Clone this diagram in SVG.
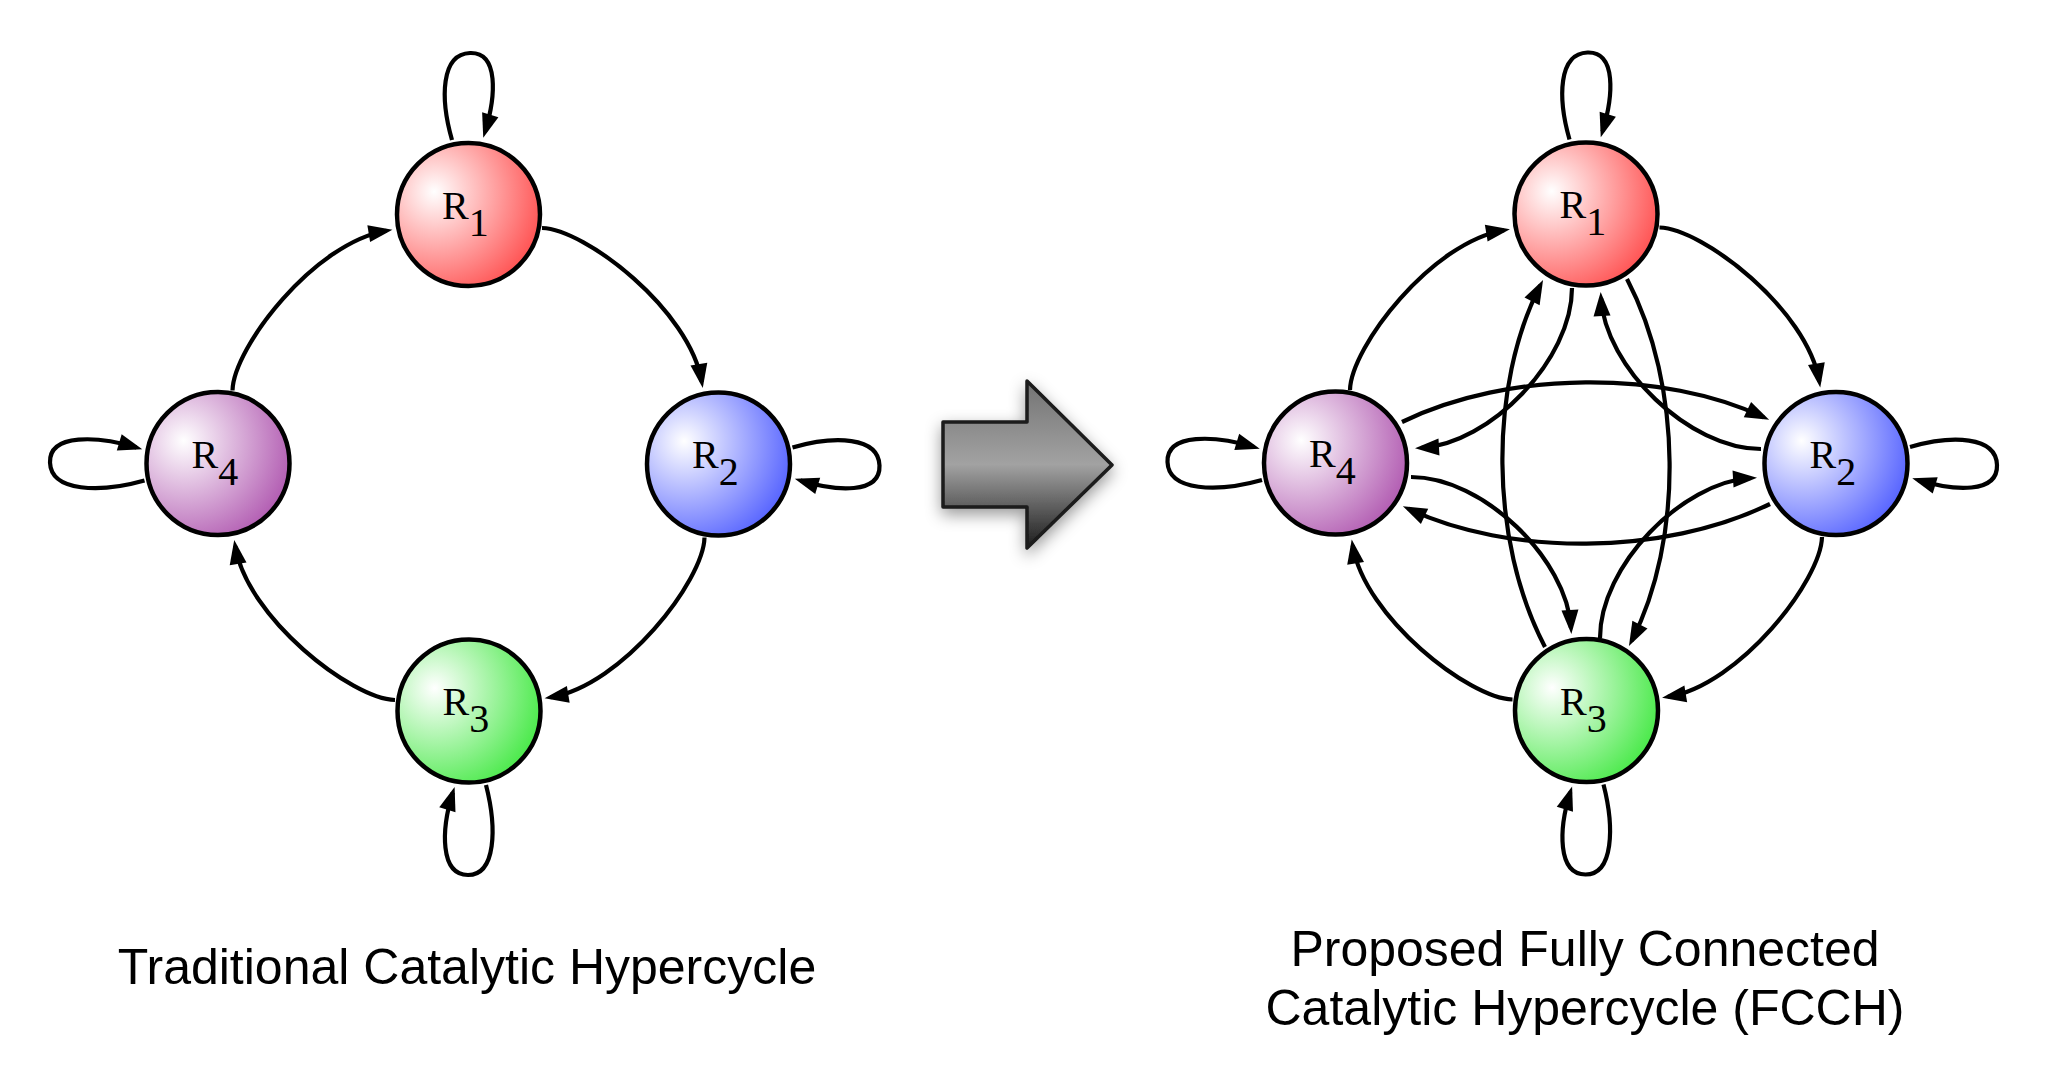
<svg xmlns="http://www.w3.org/2000/svg" width="2046" height="1075" viewBox="0 0 2046 1075">
<style>
.edge{fill:none;stroke:#000;stroke-width:4.2;marker-end:url(#ah)}
.node{stroke:#000;stroke-width:4.5}
.lbl{font-family:"Liberation Serif","Times New Roman",serif;font-size:40px;fill:#000}
.cap{font-family:"Liberation Sans",Arial,sans-serif;font-size:50px;fill:#000;text-anchor:middle}
</style>
<defs>
<marker id="ah" markerUnits="userSpaceOnUse" markerWidth="24" markerHeight="17" refX="18" refY="8.5" orient="auto" viewBox="0 0 24 17" overflow="visible">
<path d="M0,0 L24,8.5 L0,17 z" fill="#000"/>
</marker>
<radialGradient id="g1" cx="0.28" cy="0.36" r="0.8" fx="0.26" fy="0.34"><stop offset="0" stop-color="#ffffff"/><stop offset="1" stop-color="#ff4a4a"/></radialGradient>
<radialGradient id="g2" cx="0.28" cy="0.36" r="0.8" fx="0.26" fy="0.34"><stop offset="0" stop-color="#ffffff"/><stop offset="1" stop-color="#4e5cff"/></radialGradient>
<radialGradient id="g3" cx="0.28" cy="0.36" r="0.8" fx="0.26" fy="0.34"><stop offset="0" stop-color="#ffffff"/><stop offset="1" stop-color="#40e840"/></radialGradient>
<radialGradient id="g4" cx="0.28" cy="0.36" r="0.8" fx="0.26" fy="0.34"><stop offset="0" stop-color="#ffffff"/><stop offset="1" stop-color="#ae54ae"/></radialGradient>
<linearGradient id="ga" gradientUnits="userSpaceOnUse" x1="0" y1="381" x2="0" y2="548">
<stop offset="0" stop-color="#737373"/><stop offset="0.5" stop-color="#a2a2a2"/><stop offset="1" stop-color="#1c1c1c"/>
</linearGradient>
<filter id="sh" x="-30%" y="-30%" width="160%" height="170%">
<feDropShadow dx="0" dy="6" stdDeviation="8" flood-color="#000" flood-opacity="0.4"/>
</filter>
</defs>
<rect width="2046" height="1075" fill="#fff"/>

<g id="connectors">
<!-- left: traditional -->
<path class="edge" d="M452,140 C440,98 441,54 470,53 C499,52 496,96 485,132"/>
<path class="edge" d="M792.5,447.5 C834.5,435.5 878.5,436.5 879.5,465.5 C880.5,494.5 836.5,491.5 800.5,480.5"/>
<path class="edge" d="M486,785 C497,828 496,875 468,875 C440,875 441,830 452.8,792.6"/>
<path class="edge" d="M144.5,480.5 C100,493 51,492 50,462.5 C49,433 98,436 136.5,447.5"/>
<path class="edge" d="M542,228 C585,229 690,310 701.8,382"/>
<path class="edge" d="M704.5,537.5 C703.5,580.5 622.5,685.5 550.5,697.3"/>
<path class="edge" d="M395,700 C352,699 247,618 235.2,546"/>
<path class="edge" d="M232.5,390.5 C233.5,347.5 314.5,242.5 386.5,230.7"/>
<!-- right: fully connected -->
<path class="edge" d="M1569.5,139.5 C1557.5,97.5 1558.5,53.5 1587.5,52.5 C1616.5,51.5 1613.5,95.5 1602.5,131.5"/>
<path class="edge" d="M1910,447 C1952,435 1996,436 1997,465 C1998,494 1954,491 1918,480"/>
<path class="edge" d="M1603.5,784.5 C1614.5,827.5 1613.5,874.5 1585.5,874.5 C1557.5,874.5 1558.5,829.5 1570.3,792.1"/>
<path class="edge" d="M1262,480 C1217.5,492.5 1168.5,491.5 1167.5,462 C1166.5,432.5 1215.5,435.5 1254,447"/>
<path class="edge" d="M1659.5,227.5 C1702.5,228.5 1807.5,309.5 1819.3,381.5"/>
<path class="edge" d="M1822,537 C1821,580 1740,685 1668,696.8"/>
<path class="edge" d="M1512.5,699.5 C1469.5,698.5 1364.5,617.5 1352.7,545.5"/>
<path class="edge" d="M1350,390 C1351,347 1432,242 1504,230.2"/>
<path class="edge" d="M1572,288 C1572,360 1490,444 1421,448"/>
<path class="edge" d="M1761,449 C1689,449 1605,367 1601,298"/>
<path class="edge" d="M1600,638 C1600,566 1682,482 1751,478"/>
<path class="edge" d="M1411,477 C1483,477 1567,559 1571,628"/>
<path class="edge" d="M1545,647 C1489,540 1489,385 1540.3,285.3"/>
<path class="edge" d="M1402,422 C1509,370 1664,370 1763.7,417.3"/>
<path class="edge" d="M1627,279 C1683,386 1683,541 1631.7,640.7"/>
<path class="edge" d="M1770,504 C1663,556 1508,556 1408.3,508.7"/>
</g>

<g id="L-R1"><circle class="node" cx="468.5" cy="214.5" r="71.5" fill="url(#g1)"/><text class="lbl" x="442" y="218.5">R<tspan dy="17">1</tspan></text></g>
<g id="L-R2"><circle class="node" cx="718.5" cy="464" r="71.5" fill="url(#g2)"/><text class="lbl" x="692" y="468">R<tspan dy="17">2</tspan></text></g>
<g id="L-R3"><circle class="node" cx="469" cy="711" r="71.5" fill="url(#g3)"/><text class="lbl" x="442.5" y="715">R<tspan dy="17">3</tspan></text></g>
<g id="L-R4"><circle class="node" cx="218" cy="463.5" r="71.5" fill="url(#g4)"/><text class="lbl" x="191.5" y="467.5">R<tspan dy="17">4</tspan></text></g>

<g id="R-R1"><circle class="node" cx="1586" cy="214" r="71.5" fill="url(#g1)"/><text class="lbl" x="1559.5" y="218">R<tspan dy="17">1</tspan></text></g>
<g id="R-R2"><circle class="node" cx="1836" cy="463.5" r="71.5" fill="url(#g2)"/><text class="lbl" x="1809.5" y="467.5">R<tspan dy="17">2</tspan></text></g>
<g id="R-R3"><circle class="node" cx="1586.5" cy="710.5" r="71.5" fill="url(#g3)"/><text class="lbl" x="1560" y="714.5">R<tspan dy="17">3</tspan></text></g>
<g id="R-R4"><circle class="node" cx="1335.5" cy="463" r="71.5" fill="url(#g4)"/><text class="lbl" x="1309" y="467">R<tspan dy="17">4</tspan></text></g>

<g id="transform-arrow">
<polygon points="943,422 1027,422 1027,381 1112,465 1027,548 1027,507 943,507" fill="url(#ga)" stroke="#1a1a1a" stroke-width="3.5" stroke-linejoin="round" filter="url(#sh)"/>
</g>

<g id="captions">
<text class="cap" x="467" y="984">Traditional Catalytic Hypercycle</text>
<text class="cap" x="1585" y="966">Proposed Fully Connected</text>
<text class="cap" x="1585" y="1025">Catalytic Hypercycle (FCCH)</text>
</g>
</svg>
